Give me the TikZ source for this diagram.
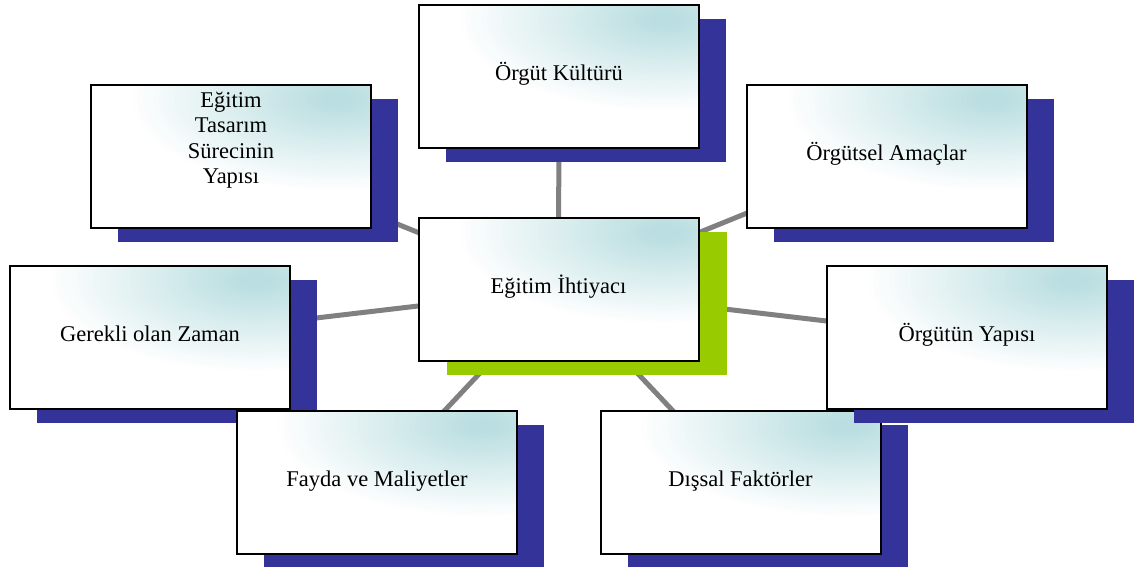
\documentclass[tikz,border=0pt]{standalone}
\usepackage{fontspec}
\setmainfont{Liberation Serif}
\usetikzlibrary{shadows,backgrounds}
\definecolor{shadowblue}{HTML}{333399}
\definecolor{shadowgreen}{HTML}{99CC00}
\definecolor{boxcyan}{HTML}{BADEE1}
\definecolor{linegray}{HTML}{808080}
\tikzset{
  topicbox/.style={rectangle, draw=black, line width=2pt, fill=white,
    minimum width=280pt, minimum height=143pt, inner sep=0pt, outer sep=0pt,
    align=center, text height=12pt, text depth=5pt,
    font=\fontsize{22.5}{25.3}\selectfont,
    path picture={\foreach \k in {40,39,...,1}{
        \pgfmathtruncatemacro\pc{min(100,(40-\k)*100/37)}
        \fill[boxcyan!\pc!white] ([shift={(106,-57)}]path picture bounding box.center)
          ellipse [x radius={210pt*\k/40}, y radius={93pt*\k/40}];}}},
  blueshadow/.style={drop shadow={shadow xshift=27pt, shadow yshift=-14pt, fill=shadowblue, opacity=1}},
  greenshadow/.style={drop shadow={shadow xshift=28pt, shadow yshift=-14pt, fill=shadowgreen, opacity=1}},
  conn/.style={draw=linegray, line width=5pt}
}
\begin{document}
\begin{tikzpicture}[x=1pt,y=-1pt]
\useasboundingbox (0,0) rectangle (1134,566);
\node[topicbox, blueshadow] (kultur) at (559,76.5) {Örgüt Kültürü};
\node[topicbox, blueshadow, text height=60pt, text depth=6.4pt] (tasarim) at (231,156.5) {Eğitim\\Tasarım\\Sürecinin\\Yapısı};
\node[topicbox, blueshadow] (amac) at (886.5,156.5) {Örgütsel Amaçlar};
\node[topicbox, greenshadow] (ihtiyac) at (558.5,289.5) {Eğitim İhtiyacı};
\node[topicbox, blueshadow] (zaman) at (150,337.5) {Gerekli olan Zaman};
\node[topicbox, blueshadow] (fayda) at (377,482.5) {Fayda ve Maliyetler};
\node[topicbox, blueshadow] (dissal) at (740.5,482.5) {Dışsal Faktörler};
\node[topicbox, blueshadow] (yapi) at (967,337.5) {Örgütün Yapısı};
\begin{scope}[on background layer]
\foreach \n in {kultur,tasarim,amac,zaman,yapi,fayda,dissal}
  \draw[conn] (ihtiyac.center) -- (\n.center);
\end{scope}
\end{tikzpicture}
\end{document}
